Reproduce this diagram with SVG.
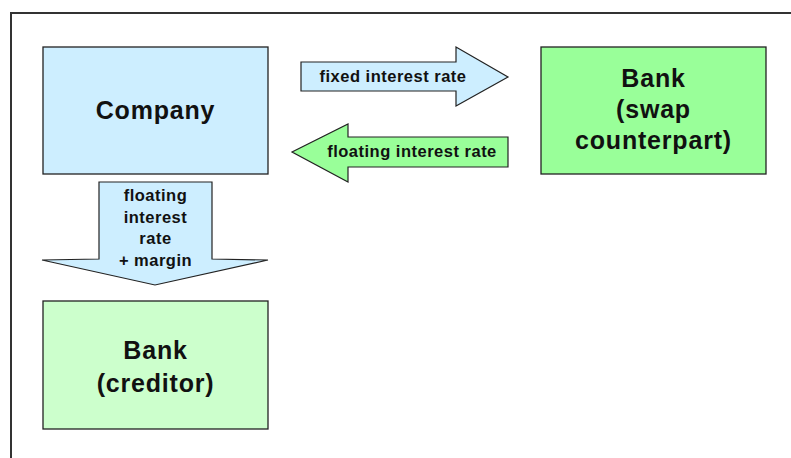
<svg xmlns="http://www.w3.org/2000/svg" width="791" height="458" viewBox="0 0 791 458">
<style>
.box{stroke:#222;stroke-width:1.3}
.arr{stroke:#222;stroke-width:1.2;stroke-linejoin:miter}
.blue{fill:#cdeeff}
.green{fill:#99ff99}
.lgreen{fill:#ccffcc}
.t{font-family:"Liberation Sans",Arial,sans-serif;font-weight:bold;fill:#111;text-anchor:middle}
.big{font-size:25px;letter-spacing:0.8px}
.sm{font-size:16.5px;letter-spacing:0.5px}
</style>
<rect width="791" height="458" fill="#fff"/>
<path d="M11,458 V13 H791" fill="none" stroke="#333" stroke-width="2"/>
<g id="company">
<rect x="43" y="47" width="225" height="127" class="box blue"/>
<text x="155.5" y="119" class="t big">Company</text>
</g>
<g id="bank-swap">
<rect x="541" y="47" width="225" height="127" class="box green"/>
<text x="653.5" y="87" class="t big">Bank</text>
<text x="653.5" y="118" class="t big">(swap</text>
<text x="653.5" y="149" class="t big">counterpart)</text>
</g>
<g id="bank-creditor">
<rect x="43" y="301" width="225" height="128" class="box lgreen"/>
<text x="155.5" y="359" class="t big">Bank</text>
<text x="155.5" y="392" class="t big">(creditor)</text>
</g>
<g id="connectors">
<g id="fixed-arrow">
<polygon points="301,62 456,62 456,47 508,77 456,106 456,91 301,91" class="arr blue"/>
<text x="393" y="82" class="t sm">fixed interest rate</text>
</g>
<g id="floating-arrow">
<polygon points="508,137 348,137 348,124 292,152 348,182 348,167 508,167" class="arr green"/>
<text x="412" y="157" class="t sm">floating interest rate</text>
</g>
<g id="down-arrow">
<polygon points="99,182 212,182 212,259 268,260 155,285 42,260 99,259" class="arr blue"/>
<text x="155.5" y="201" class="t sm">floating</text>
<text x="155.5" y="223" class="t sm">interest</text>
<text x="155.5" y="244" class="t sm">rate</text>
<text x="155.5" y="266" class="t sm">+ margin</text>
</g>
</g>
</svg>
